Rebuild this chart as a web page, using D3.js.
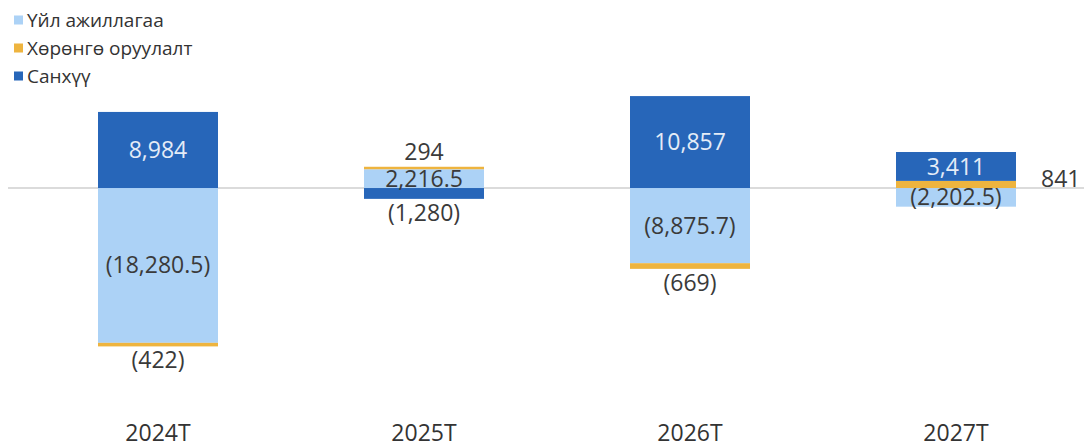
<!DOCTYPE html>
<html>
<head>
<meta charset="utf-8">
<script src="https://cdn.jsdelivr.net/npm/d3@7"></script>
<style>
  body { margin: 0; background: #fff; }
  svg { display: block; }
</style>
</head>
<body>
<div id="chart"></div>
<script>
// data
const categories = ["2024T", "2025T", "2026T", "2027T"];
const seriesNames = ["Үйл ажиллагаа", "Хөрөнгө оруулалт", "Санхүү"];
const operations = [-18280.5, 2216.5, -8875.7, -2202.5];
const investment = [-422, 294, -669, 841];
const finance = [8984, -1280, 10857, 3411];

const colors = ["#acd2f6", "#eeb43f", "#2766b9"];
const labelColors = ["#3a3a3a", "#3a3a3a", "#e4ecf7"];

const width = 1084, height = 448;

const svg = d3.select("#chart").append("svg")
  .attr("width", width)
  .attr("height", height);

// build rows for the stack
const keys = ["ops", "inv", "fin"];
const rows = categories.map((c, i) => ({
  cat: c, ops: operations[i], inv: investment[i], fin: finance[i]
}));

const stack = d3.stack()
  .keys(keys)
  .offset(d3.stackOffsetDiverging);
const layers = stack(rows);

const x = d3.scalePoint()
  .domain(categories)
  .range([25, 1089])
  .padding(0.5);
const barW = 120;

const y = d3.scaleLinear()
  .domain([-20000, 12000])
  .range([357.4, 86.4]);

// zero line
svg.append("line")
  .attr("x1", 8).attr("x2", width)
  .attr("y1", y(0)).attr("y2", y(0))
  .attr("stroke", "#cfcfcf")
  .attr("stroke-width", 1.5);

// bars
const g = svg.append("g");
layers.forEach((layer, li) => {
  g.selectAll("rect.s" + li)
    .data(layer)
    .join("rect")
    .attr("class", "s" + li)
    .attr("x", d => x(d.data.cat) - barW / 2)
    .attr("width", barW)
    .attr("y", d => y(Math.max(d[0], d[1])))
    .attr("height", d => Math.abs(y(d[0]) - y(d[1])))
    .attr("fill", colors[li]);
});

// labels
function fmt(v) {
  const s = Math.abs(v).toLocaleString("en-US", {maximumFractionDigits: 1});
  return v < 0 ? "(" + s + ")" : s;
}

const labelFont = "'Open Sans', sans-serif";
const labels = svg.append("g")
  .style("font-family", labelFont)
  .style("font-size", "23px");

layers.forEach((layer, li) => {
  layer.forEach((d, ci) => {
    const v = d.data[keys[li]];
    const top = y(Math.max(d[0], d[1]));
    const bot = y(Math.min(d[0], d[1]));
    const h = bot - top;
    const cx = x(d.data.cat);
    // is this segment at the outer edge of its stack?
    const others = layers.filter((l, k) => k !== li).map(l => l[ci]);
    const atEdge = v >= 0
      ? others.every(o => Math.max(o[0], o[1]) <= Math.max(d[0], d[1]))
      : others.every(o => Math.min(o[0], o[1]) >= Math.min(d[0], d[1]));
    let lx = cx, ly, anchor = "middle", fill = "#3a3a3a";
    if (h > 16) {
      ly = (top + bot) / 2;
      fill = labelColors[li];
    } else if (atEdge) {
      ly = v >= 0 ? top - 15 : bot + 14;
    } else {
      lx = cx + barW / 2 + 25;
      ly = (top + bot) / 2 - 6;
      anchor = "start";
    }
    labels.append("text")
      .attr("x", lx)
      .attr("y", ly)
      .attr("dy", "0.35em")
      .attr("text-anchor", anchor)
      .attr("fill", fill)
      .text(fmt(v));
  });
});

// x axis labels
svg.append("g")
  .selectAll("text")
  .data(categories)
  .join("text")
  .attr("x", d => x(d))
  .attr("y", 441)
  .attr("text-anchor", "middle")
  .attr("fill", "#333")
  .style("font-family", "'Open Sans', sans-serif")
  .style("font-size", "23px")
  .text(d => d);

// legend
const legend = svg.append("g")
  .style("font-family", "'Open Sans', sans-serif")
  .style("font-size", "19px");
const li = legend.selectAll("g")
  .data(seriesNames)
  .join("g")
  .attr("transform", (d, i) => "translate(14," + (20 + i * 28) + ")");
li.append("rect")
  .attr("x", 0).attr("y", -4.5)
  .attr("width", 9).attr("height", 9)
  .attr("fill", (d, i) => colors[i]);
li.append("text")
  .attr("x", 13)
  .attr("dy", "0.35em")
  .attr("fill", "#333")
  .text(d => d);
</script>
</body>
</html>
